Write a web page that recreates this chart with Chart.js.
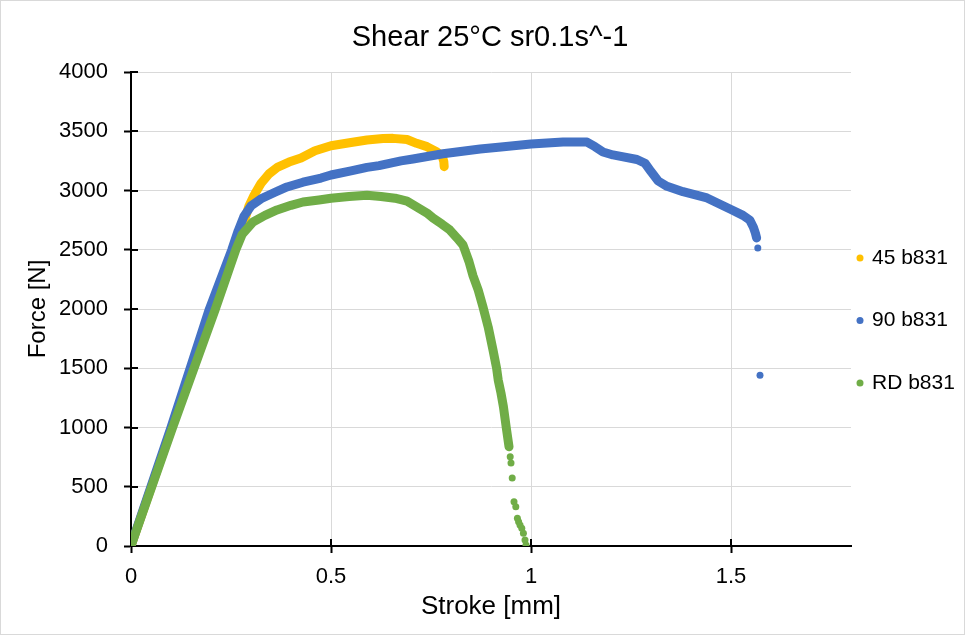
<!DOCTYPE html>
<html>
<head>
<meta charset="utf-8">
<script src="https://cdn.jsdelivr.net/npm/chart.js@4.4.0/dist/chart.umd.min.js"></script>
<style>
  html, body { margin: 0; padding: 0; background: #fff; }
</style>
</head>
<body>
<canvas id="myChart" width="965" height="635"></canvas>
<script>
const chartTitle = 'Shear 25°C sr0.1s^-1';
const xTitle = 'Stroke [mm]';
const yTitle = 'Force [N]';
const xTickValues = [0, 0.5, 1, 1.5];
const yTickValues = [0, 500, 1000, 1500, 2000, 2500, 3000, 3500, 4000];

// 45 b831
const stroke45 = [0.002, 0.102, 0.203, 0.258, 0.275, 0.285, 0.295, 0.308, 0.325, 0.345, 0.367, 0.395, 0.425, 0.46, 0.5, 0.55, 0.59, 0.63, 0.655, 0.69, 0.714, 0.74, 0.764, 0.778, 0.782, 0.783];
const force45  = [20, 1000, 2000, 2500, 2650, 2760, 2870, 2962, 3060, 3140, 3198, 3240, 3274, 3335, 3378, 3405, 3426, 3438, 3440, 3430, 3398, 3370, 3328, 3290, 3245, 3201];
const loose45Stroke = [];
const loose45Force = [];

// 90 b831
const stroke90 = [0, 0.1, 0.196, 0.252, 0.268, 0.282, 0.3, 0.325, 0.36, 0.39, 0.43, 0.475, 0.5, 0.55, 0.59, 0.62, 0.675, 0.705, 0.78, 0.873, 0.925, 1.0, 1.08, 1.14, 1.16, 1.18, 1.205, 1.265, 1.285, 1.3, 1.318, 1.34, 1.38, 1.44, 1.5, 1.53, 1.547, 1.556, 1.561, 1.564];
const force90  = [5, 1000, 2000, 2500, 2660, 2780, 2870, 2930, 2985, 3030, 3070, 3105, 3131, 3165, 3195, 3210, 3250, 3266, 3310, 3350, 3367, 3392, 3409, 3409, 3370, 3325, 3300, 3262, 3230, 3160, 3080, 3035, 2990, 2937, 2840, 2790, 2750, 2690, 2640, 2600];
const loose90Stroke = [1.567, 1.5725];
const loose90Force  = [2515, 1440];

// RD b831
const strokeRD = [0.002, 0.104, 0.211, 0.262, 0.278, 0.305, 0.335, 0.365, 0.4, 0.43, 0.47, 0.5, 0.545, 0.59, 0.625, 0.66, 0.69, 0.715, 0.74, 0.755, 0.778, 0.797, 0.815, 0.83, 0.845, 0.855, 0.868, 0.88, 0.893, 0.905, 0.914, 0.918, 0.925, 0.931, 0.939, 0.945];
const forceRD  = [20, 1000, 2000, 2500, 2630, 2734, 2790, 2836, 2875, 2903, 2920, 2935, 2950, 2960, 2950, 2935, 2910, 2860, 2810, 2768, 2715, 2667, 2600, 2540, 2400, 2280, 2160, 2017, 1848, 1654, 1500, 1401, 1290, 1176, 979, 838];
const looseRDStroke = [0.948, 0.95, 0.953, 0.9575, 0.962, 0.966, 0.969, 0.9725, 0.977, 0.981, 0.985, 0.9875];
const looseRDForce  = [754, 700, 574, 374, 332, 234, 205, 177, 149, 107, 51, 8];

const seriesNames = ['45 b831', '90 b831', 'RD b831'];
const seriesColors = ['#FFC000', '#4472C4', '#70AD47'];

const FONT = '"Liberation Sans", Arial, sans-serif';

function toPoints(xs, ys) {
    return xs.map((x, i) => ({ x: x, y: ys[i] }));
}

function makeSet(i, xs, ys, looseX, looseY, order) {
    let joined = xs.length;
    return {
        label: seriesNames[i],
        data: toPoints(xs, ys).concat(toPoints(looseX, looseY)),
        showLine: true,
        borderColor: seriesColors[i],
        backgroundColor: seriesColors[i],
        borderWidth: 9,
        borderCapStyle: 'round',
        borderJoinStyle: 'round',
        pointRadius: 3.5,
        pointHoverRadius: 3.5,
        pointBorderWidth: 0,
        segment: {
            borderColor: ctx => ctx.p1DataIndex >= joined ? 'rgba(0,0,0,0)' : undefined
        },
        order: order
    };
}

// border round the whole picture
const frame = {
    id: 'frame',
    beforeDraw(chart) {
        let ctx = chart.ctx;
        ctx.save();
        ctx.fillStyle = '#fff';
        ctx.fillRect(0, 0, chart.width, chart.height);
        ctx.strokeStyle = '#d9d9d9';
        ctx.lineWidth = 1;
        ctx.strokeRect(0.5, 0.5, chart.width - 1, chart.height - 1);
        ctx.restore();
    }
};

// tick marks crossing into the plot
const innerTicks = {
    id: 'innerTicks',
    beforeDatasetsDraw(chart) {
        let ctx = chart.ctx;
        let area = chart.chartArea;
        let x = chart.scales.x;
        let y = chart.scales.y;
        ctx.save();
        ctx.strokeStyle = '#000';
        ctx.lineWidth = 2;
        ctx.beginPath();
        y.ticks.forEach(t => {
            let py = Math.round(y.getPixelForValue(t.value));
            ctx.moveTo(area.left, py);
            ctx.lineTo(area.left + 7, py);
        });
        x.ticks.forEach(t => {
            let px = Math.round(x.getPixelForValue(t.value));
            ctx.moveTo(px, area.bottom);
            ctx.lineTo(px, area.bottom - 7);
        });
        ctx.stroke();
        ctx.restore();
    }
};

const sideLegend = {
    id: 'sideLegend',
    afterDraw(chart) {
        let ctx = chart.ctx;
        let area = chart.chartArea;
        ctx.save();
        ctx.font = '21px ' + FONT;
        ctx.textBaseline = 'middle';
        ctx.textAlign = 'left';
        chart.data.datasets.forEach((ds, i) => {
            let cx = area.right + 9;
            let cy = area.top + 186 + i * 62.5;
            ctx.fillStyle = ds.backgroundColor;
            ctx.beginPath();
            ctx.arc(cx, cy, 3.5, 0, Math.PI * 2);
            ctx.fill();
            ctx.fillStyle = '#000';
            ctx.fillText(ds.label, cx + 12, cy);
        });
        ctx.restore();
    }
};

let canvas = document.getElementById('myChart');
new Chart(canvas, {
    type: 'scatter',
    data: {
        datasets: [
            makeSet(0, stroke45, force45, loose45Stroke, loose45Force, 3),
            makeSet(1, stroke90, force90, loose90Stroke, loose90Force, 2),
            makeSet(2, strokeRD, forceRD, looseRDStroke, looseRDForce, 1)
        ]
    },
    options: {
        responsive: false,
        animation: false,
        events: [],
        layout: { padding: { left: 15, right: 0, top: 4, bottom: 4 } },
        plugins: {
            legend: { display: false },
            tooltip: { enabled: false },
            title: {
                display: true,
                text: chartTitle,
                color: '#000',
                font: { family: FONT, size: 29, weight: 'normal' },
                padding: { top: 16.6, bottom: 16.6 }
            }
        },
        scales: {
            x: {
                type: 'linear',
                min: 0,
                max: 1.8,
                afterBuildTicks: s => { s.ticks = xTickValues.map(v => ({ value: v })); },
                afterFit: s => { s.height = 85; },
                ticks: {
                    color: '#000',
                    font: { family: FONT, size: 22 },
                    padding: 11,
                    callback: v => String(v)
                },
                grid: { color: '#d9d9d9', lineWidth: 1, tickColor: '#000', tickLength: 7, tickWidth: 2 },
                border: { color: '#000', width: 2 },
                title: {
                    display: true,
                    text: xTitle,
                    color: '#000',
                    font: { family: FONT, size: 26 },
                    padding: { top: 0, bottom: 8.4 }
                }
            },
            y: {
                type: 'linear',
                min: 0,
                max: 4000,
                afterBuildTicks: s => { s.ticks = yTickValues.map(v => ({ value: v })); },
                afterFit: s => { s.width = 116; },
                ticks: {
                    color: '#000',
                    font: { family: FONT, size: 22 },
                    padding: 16,
                    callback: v => String(v)
                },
                grid: { color: '#d9d9d9', lineWidth: 1, tickColor: '#000', tickLength: 7, tickWidth: 2 },
                border: { color: '#000', width: 2 },
                title: {
                    display: true,
                    text: yTitle,
                    color: '#000',
                    font: { family: FONT, size: 24 },
                    padding: { top: 8.6, bottom: 0 }
                }
            },
            yPad: {
                type: 'linear',
                position: 'right',
                min: 0,
                max: 1,
                afterFit: s => { s.width = 114; },
                ticks: { display: false },
                grid: { display: false, drawTicks: false },
                border: { display: false }
            }
        }
    },
    plugins: [frame, innerTicks, sideLegend]
});
</script>
</body>
</html>
